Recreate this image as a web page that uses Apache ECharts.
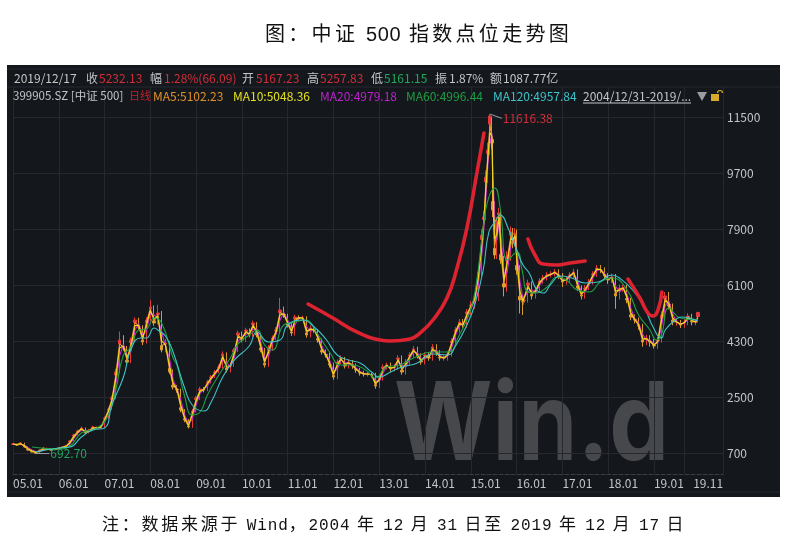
<!DOCTYPE html>
<html>
<head>
<meta charset="utf-8">
<title>中证 500 指数点位走势图</title>
<script src="https://cdn.jsdelivr.net/npm/echarts@6/dist/echarts.min.js"></script>
<style>
  html, body { margin: 0; padding: 0; background: #fff; overflow: hidden; }
  #chart { position: absolute; left: 0; top: 0; width: 789px; height: 538px; }
  .cap { position: absolute; left: 0; width: 789px; color: #111; white-space: pre; z-index: 2; }
  #head { top: 20px; left: 265px; width: auto; font: 20px/26px "Noto Sans CJK SC", sans-serif; letter-spacing: 3.3px; }
  #head span { font-family: "Liberation Sans"; letter-spacing: 0.6px; }
  #foot { top: 512px; left: 102px; width: auto; font: 17px/22px "Noto Sans CJK SC", sans-serif; letter-spacing: 2.75px; }
  #foot span { font-family: "Liberation Mono"; font-size: 16px; letter-spacing: 0.9px; word-spacing: -4px; }
</style>
</head>
<body>
<div id="chart"></div>
<div id="head" class="cap">图：中证 <span>500</span> 指数点位走势图</div>
<div id="foot" class="cap">注：数据来源于<span> Wind</span>，<span>2004 </span>年<span> 12 </span>月<span> 31 </span>日至<span> 2019 </span>年<span> 12 </span>月<span> 17 </span>日</div>
<script>
const dates = [
  '2005-01-01','2005-02-01','2005-03-01','2005-04-01','2005-05-01','2005-06-01','2005-07-01','2005-08-01','2005-09-01','2005-10-01','2005-11-01','2005-12-01',
  '2006-01-01','2006-02-01','2006-03-01','2006-04-01','2006-05-01','2006-06-01','2006-07-01','2006-08-01','2006-09-01','2006-10-01','2006-11-01','2006-12-01',
  '2007-01-01','2007-02-01','2007-03-01','2007-04-01','2007-05-01','2007-06-01','2007-07-01','2007-08-01','2007-09-01','2007-10-01','2007-11-01','2007-12-01',
  '2008-01-01','2008-02-01','2008-03-01','2008-04-01','2008-05-01','2008-06-01','2008-07-01','2008-08-01','2008-09-01','2008-10-01','2008-11-01','2008-12-01',
  '2009-01-01','2009-02-01','2009-03-01','2009-04-01','2009-05-01','2009-06-01','2009-07-01','2009-08-01','2009-09-01','2009-10-01','2009-11-01','2009-12-01',
  '2010-01-01','2010-02-01','2010-03-01','2010-04-01','2010-05-01','2010-06-01','2010-07-01','2010-08-01','2010-09-01','2010-10-01','2010-11-01','2010-12-01',
  '2011-01-01','2011-02-01','2011-03-01','2011-04-01','2011-05-01','2011-06-01','2011-07-01','2011-08-01','2011-09-01','2011-10-01','2011-11-01','2011-12-01',
  '2012-01-01','2012-02-01','2012-03-01','2012-04-01','2012-05-01','2012-06-01','2012-07-01','2012-08-01','2012-09-01','2012-10-01','2012-11-01','2012-12-01',
  '2013-01-01','2013-02-01','2013-03-01','2013-04-01','2013-05-01','2013-06-01','2013-07-01','2013-08-01','2013-09-01','2013-10-01','2013-11-01','2013-12-01',
  '2014-01-01','2014-02-01','2014-03-01','2014-04-01','2014-05-01','2014-06-01','2014-07-01','2014-08-01','2014-09-01','2014-10-01','2014-11-01','2014-12-01',
  '2015-01-01','2015-01-31','2015-03-02','2015-03-31','2015-04-16','2015-05-02','2015-05-18','2015-06-03','2015-06-19','2015-06-27','2015-07-09','2015-07-29',
  '2015-08-14','2015-08-30','2015-09-23','2015-10-17','2015-11-18','2015-12-04','2015-12-20','2016-01-05','2016-01-29','2016-02-22',
  '2016-03-01','2016-04-01','2016-05-01','2016-06-01','2016-07-01','2016-08-01','2016-09-01','2016-10-01','2016-11-01','2016-12-01',
  '2017-01-01','2017-02-01','2017-03-01','2017-04-01','2017-05-01','2017-06-01','2017-07-01','2017-08-01','2017-09-01','2017-10-01','2017-11-01','2017-12-01',
  '2018-01-01','2018-02-01','2018-03-01','2018-04-01','2018-05-01','2018-06-01','2018-07-01','2018-08-01','2018-09-01','2018-10-01','2018-11-01','2018-12-01',
  '2019-01-01','2019-02-01','2019-03-01','2019-04-01','2019-05-01','2019-06-01','2019-07-01','2019-08-01','2019-09-01','2019-10-01','2019-11-01','2019-12-01','2019-12-17',
];
const closes = [
  999,967,1031,903,806,742,700,806,871,838,806,838,
  871,903,935,1096,1289,1418,1514,1353,1450,1546,1514,1546,
  1836,2126,2480,3316,4346,4088,3638,4346,4990,4764,4281,4990,
  5408,4893,5215,4025,4249,3316,2834,2737,2093,1772,1546,2061,
  2480,2769,2737,2994,3155,3316,3477,3895,3381,3541,4025,4571,
  4346,4668,4507,4893,4507,4025,3541,4088,4410,4668,5311,5150,
  4829,4571,5086,5054,5054,4507,4732,4668,4346,3960,3863,3541,
  3155,3638,3767,3509,3638,3509,3381,3284,3252,3252,3220,2866,
  3123,3477,3541,3413,3477,3767,3316,3638,3863,4056,3831,3638,
  3863,3767,4121,3928,3767,3767,3895,4314,4668,4925,4829,5247,
  5472,5698,6534,7725,8304,9591,10460,11554,10686,8529,7081,8111,8433,6920,6052,7017,7821,7467,7789,6598,5633,5569,
  5633,6180,5762,5955,6245,6341,6438,6470,6534,6405,
  6212,6309,6438,6534,6019,5762,6019,6212,6470,6663,6599,6405,
  6277,6373,5762,6019,6019,5633,5086,4990,4796,4281,4410,4281,
  4153,4346,5150,5762,5440,4925,4925,4829,4925,5118,4925,4925,5232.13,
];
const highs = [
  1030,1010,1060,1040,920,820,760,830,900,880,850,860,
  900,930,970,1130,1330,1460,1560,1530,1480,1590,1560,1590,
  1880,2180,2560,3420,4620,4500,4150,4420,5080,5060,4820,5080,
  5640,5460,5480,5280,4380,4300,3400,2900,2780,2120,1800,2120,
  2540,2840,2830,3060,3220,3380,3550,3980,3950,3630,4090,4650,
  4620,4740,4720,4970,4920,4560,4090,4180,4490,4760,5700,5420,
  5190,4900,5160,5140,5130,5110,4820,4770,4700,4400,4040,3930,
  3620,3720,3850,3800,3720,3700,3590,3450,3360,3320,3300,3290,
  3230,3560,3620,3620,3570,3860,3850,3730,3950,4150,4130,3920,
  3950,3950,4210,4210,4020,3860,3980,4400,4760,5020,5020,5340,
  5600,5810,6700,7900,8500,9800,10700,11616,11500,10800,8700,8300,8600,8550,7050,7200,8000,7950,7950,7900,6750,5800,
  5760,6290,6230,6070,6340,6440,6530,6560,6630,6620,
  6500,6400,6530,6640,6620,6100,6120,6310,6560,6760,6760,6680,
  6500,6480,6470,6130,6120,6120,5700,5170,5070,4870,4510,4500,
  4380,4450,5270,5890,5890,5520,5030,4990,5010,5210,5190,5020,5257.83,
];
const lows = [
  970,945,960,880,790,725,693,695,800,820,790,800,
  830,860,895,930,1090,1280,1410,1330,1340,1440,1490,1500,
  1520,1810,2090,2450,3270,4000,3560,3600,4300,4680,4180,4230,
  4950,4800,4850,3950,3950,3250,2750,2650,2020,1700,1500,1520,
  2020,2420,2660,2700,2950,3120,3280,3420,3300,3300,3480,3960,
  4270,4280,4430,4450,4430,3950,3460,3480,4000,4340,4590,5060,
  4750,4480,4490,4980,4970,4420,4430,4580,4260,3880,3780,3460,
  3070,3080,3570,3430,3430,3420,3290,3200,3170,3170,3140,2780,
  2800,3040,3400,3320,3340,3390,3230,3230,3550,3780,3750,3550,
  3560,3680,3680,3840,3680,3680,3680,3810,4230,4580,4740,4740,
  5150,5350,5600,6400,7600,8200,9400,10300,10500,8300,6950,6950,7980,6800,5750,5900,6900,7300,7350,6450,5200,5150,
  5480,5550,5650,5680,5870,6160,6260,6360,6390,6310,
  6050,6130,6220,6340,5920,5650,5680,5950,6130,6380,6500,6300,
  6150,6180,5350,5650,5900,5530,4980,4880,4680,4130,4180,4130,
  4070,4060,4260,5050,5330,4820,4800,4730,4740,4820,4820,4820,5161.15,
];
const ma5 = [
  990,975,1020,925,825,760,720,780,860,845,815,830,
  865,900,930,1070,1260,1400,1500,1375,1435,1530,1520,1540,
  1800,2090,2440,3220,4220,4120,3690,4260,4910,4790,4340,4910,
  5350,4960,5170,4170,4220,3430,2890,2750,2170,1810,1570,2000,
  2430,2730,2740,2960,3135,3295,3455,3840,3445,3520,3965,4505,
  4375,4630,4525,4845,4555,4085,3600,4020,4370,4635,5230,5170,
  4870,4600,5025,5060,5054,4575,4705,4675,4385,4010,3875,3580,
  3205,3580,3750,3540,3620,3525,3395,3295,3255,3252,3225,2910,
  3090,3435,3535,3430,3470,3730,3370,3600,3835,4030,3860,3660,
  3835,3780,4075,3950,3790,3767,3880,4260,4625,4890,4840,5195,
  5440,5660,6430,7580,8230,9430,10350,11300,10800,8800,7300,7950,8380,7100,6160,6900,7720,7510,7750,6740,5750,5580,
  5620,6110,5815,5930,6210,6330,6425,6465,6525,6420,
  6235,6295,6420,6520,6085,5795,5985,6190,6440,6640,6610,6430,
  6295,6360,5840,5985,6019,5680,5155,5000,4820,4345,4395,4295,
  4170,4320,5050,5685,5480,4990,4925,4840,4915,5095,4950,4925,5102.23,
];
const ma10 = [
  1000,980,1005,950,850,785,735,760,835,850,825,825,
  855,890,925,1040,1220,1370,1480,1400,1415,1505,1525,1535,
  1750,2050,2390,3110,4090,4150,3770,4150,4810,4820,4420,4800,
  5280,5030,5110,4320,4190,3550,2960,2770,2250,1850,1600,1930,
  2370,2690,2745,2930,3110,3270,3430,3790,3510,3500,3900,4435,
  4405,4590,4545,4800,4600,4145,3660,3950,4330,4600,5150,5190,
  4910,4635,4960,5065,5054,4640,4680,4685,4425,4055,3890,3620,
  3250,3520,3735,3575,3605,3540,3410,3305,3260,3252,3230,2955,
  3060,3390,3525,3445,3460,3695,3430,3560,3805,4005,3885,3685,
  3805,3795,4030,3975,3810,3767,3865,4210,4580,4860,4855,5140,
  5400,5630,6330,7430,8150,9270,10240,11020,10900,9200,7600,7750,8300,7350,6300,6780,7620,7550,7700,6900,5900,5600,
  5610,6040,5870,5905,6170,6320,6410,6460,6515,6440,
  6260,6280,6405,6505,6150,5830,5950,6165,6410,6615,6620,6455,
  6315,6345,5920,5950,6019,5730,5225,5015,4845,4410,4380,4310,
  4185,4295,4950,5610,5520,5055,4925,4850,4905,5070,4975,4925,5048.36,
];
const ma20 = [
  1010,985,990,970,880,810,760,750,800,845,830,820,
  850,880,915,1000,1180,1340,1450,1430,1400,1480,1525,1530,
  1690,1980,2300,2900,3830,4200,3860,3990,4670,4870,4520,4640,
  5200,5150,5050,4620,4140,3780,3070,2790,2420,1930,1660,1800,
  2270,2625,2755,2865,3075,3235,3395,3690,3640,3460,3780,4300,
  4460,4510,4590,4700,4700,4270,3780,3815,4250,4540,4990,5230,
  4990,4700,4830,5070,5054,4780,4620,4700,4505,4155,3910,3700,
  3350,3400,3700,3640,3575,3575,3445,3330,3270,3250,3235,3040,
  3000,3300,3510,3475,3445,3620,3540,3480,3750,3960,3945,3735,
  3750,3815,3945,4025,3850,3767,3830,4105,4490,4795,4875,5040,
  5350,5580,6120,7120,8000,8950,10020,10700,11000,9600,8400,7550,8200,7700,6500,6500,7400,7640,7620,7200,6200,5650,
  5600,5900,5970,5860,6100,6290,6390,6450,6500,6470,
  6310,6260,6370,6485,6275,5890,5890,6115,6340,6565,6630,6500,
  6340,6325,6070,5890,6019,5825,5360,5040,4895,4540,4345,4345,
  4220,4250,4750,5455,5600,5180,4925,4875,4880,5020,5020,4925,4979.18,
];
const ma60Dates = [
  '2005-06-01','2006-01-01','2006-04-01','2006-07-01','2006-11-01','2007-02-01','2007-04-01','2007-06-01','2007-08-01','2007-10-01','2007-12-01',
  '2008-02-01','2008-04-01','2008-07-01','2008-08-01','2008-10-01','2008-12-01','2009-02-01','2009-04-01','2009-07-01','2009-10-01','2009-12-01',
  '2010-03-01','2010-05-01','2010-07-01','2010-09-01','2010-12-01','2011-03-01','2011-05-20','2011-09-01','2011-12-01','2012-03-01','2012-06-01','2012-09-15','2012-12-01',
  '2013-03-01','2013-06-15','2013-10-01','2014-03-01','2014-07-01','2014-10-01','2014-12-25','2015-02-12','2015-04-08','2015-05-18','2015-07-12','2015-08-22','2015-10-24',
  '2016-01-05','2016-02-14','2016-04-01','2016-06-01','2016-09-01','2016-11-20','2017-02-01','2017-05-01','2017-08-01','2017-11-01',
  '2018-02-01','2018-06-01','2018-09-01','2018-12-01','2019-01-20','2019-03-01','2019-05-01','2019-08-01','2019-12-17',
];
const ma60 = [
  903,838,935,1353,1514,1933,2737,3863,4121,4668,4700,
  5054,4893,3767,3541,2544,1933,2029,2576,3219,3767,4217,
  4507,4668,4185,4024,4829,4925,4990,4507,3960,3541,3541,3381,3123,
  3477,3541,3767,3960,3960,4507,5247,6116,7889,8850,9237,8630,6920,
  7176,6598,5891,5859,6052,6373,6277,5955,5891,6212,
  6341,5955,5150,4668,4346,4507,5376,5056,4996.44,
];
const ma120Dates = [
  '2005-07-01','2006-01-01','2006-04-01','2006-07-01','2006-10-01','2007-01-01','2007-03-01','2007-06-01','2007-08-01','2007-10-15','2007-12-01',
  '2008-02-01','2008-03-01','2008-05-01','2008-07-01','2008-10-01','2008-12-01','2009-03-01','2009-05-01','2009-08-01','2009-11-01',
  '2010-03-01','2010-05-01','2010-08-01','2010-11-01','2011-01-01','2011-05-01','2011-08-01','2011-11-01','2012-02-01','2012-05-01','2012-08-01','2012-11-01',
  '2013-01-01','2013-04-01','2013-07-01','2013-11-01','2014-03-01','2014-07-01','2014-09-01','2014-12-01','2015-02-01','2015-04-10','2015-05-25','2015-07-12','2015-08-22','2015-11-01',
  '2016-01-05','2016-02-22','2016-04-15','2016-06-10','2016-08-01','2016-10-01','2016-12-15','2017-03-15','2017-07-01','2017-10-15',
  '2018-02-01','2018-04-01','2018-07-15','2018-10-15','2018-12-25','2019-03-01','2019-04-01','2019-06-10','2019-08-10','2019-12-17',
];
const ma120 = [
  745,871,903,1225,1450,1514,2254,3155,4056,4410,4410,
  4732,4668,4475,3960,2802,2254,2061,2351,3155,3702,
  4153,4604,4281,4346,4829,4990,4764,4378,3863,3702,3605,3316,
  3155,3316,3477,3605,3895,3863,4153,4829,5472,6598,7821,8143,8368,7885,
  7210,6760,6470,5955,5858,6147,6405,6341,6180,6212,
  6438,6341,5955,5408,4764,4410,4668,4957,5086,4957.84,
];
// 红色手绘标注线
const curve1Dates = ['2011-06-13','2011-12-28','2012-07-06','2013-01-08','2013-03-28','2013-09-03','2013-11-22','2014-03-05','2014-06-25','2014-09-13','2014-12-01','2015-02-20','2015-04-16'];
const curve1 = [5504,5054,4604,4346,4314,4378,4571,4990,5698,6663,7950,9752,11007];
const curve2Dates = ['2016-04-01','2016-05-27','2016-07-31','2016-11-20','2017-03-03','2017-07-01'];
const curve2 = [7596,7081,6791,6759,6824,6888];
const curve3Dates = ['2018-06-08','2018-09-11','2018-11-14','2018-12-24','2019-02-02','2019-03-05'];
const curve3 = [6308,5698,5214,5118,5311,5890];
// 最高、最低点引线
const peakDates = ['2015-06-03','2015-09-05'];
const peakValues = [11616.38,11480];
const lowDates = ['2005-07-01','2005-10-18'];
const lowValues = [692.7,692.7];
// 坐标轴
const yTicks = [700,2500,4300,6100,7900,9700,11500];
const xLabelDates = ['2005-01-01','2006-01-01','2007-01-01','2008-01-01','2009-01-01','2010-01-01','2011-01-01','2012-01-01','2013-01-01','2014-01-01','2015-01-01','2016-01-01','2017-01-01','2018-01-01','2019-01-01','2019-11-10'];
const xLabels = ['05.01','06.01','07.01','08.01','09.01','10.01','11.01','12.01','13.01','14.01','15.01','16.01','17.01','18.01','19.01','19.11'];
const xGridDates = ['2005-01-01','2006-01-01','2007-01-01','2008-01-01','2009-01-01','2010-01-01','2011-01-01','2012-01-01','2013-01-01','2014-01-01','2015-01-01','2016-01-01','2017-01-01','2018-01-01','2019-01-01','2019-08-29'];

const FONT = '"Noto Sans CJK SC", "Noto Sans", sans-serif';
const RED = '#cf2f3a';
const GREY = '#c3c5c8';
const GRID = '#25282e';

function ms(d) {
  return Date.parse(d + 'T00:00:00Z');
}
function zip(xs, ys) {
  return xs.map((x, i) => [ms(x), ys[i]]);
}
function txt(x, y, text, fill, extra) {
  return {
    type: 'text',
    x: x,
    y: y,
    z: 10,
    silent: true,
    style: Object.assign({ text: text, fill: fill, font: '12px ' + FONT, textVerticalAlign: 'middle' }, extra),
  };
}
function maLine(name, xs, ys, color, smooth) {
  return {
    name: name,
    type: 'line',
    data: zip(xs, ys),
    smooth: smooth,
    showSymbol: false,
    symbol: 'none',
    silent: true,
    lineStyle: { color: color, width: 1.1 },
  };
}
function redCurve(xs, ys) {
  return {
    type: 'line',
    data: zip(xs, ys),
    smooth: 0.5,
    symbol: 'none',
    silent: true,
    z: 5,
    lineStyle: { color: '#dd2230', width: 3.6, cap: 'round' },
  };
}
function leader(xs, ys, text, color) {
  return {
    type: 'line',
    data: zip(xs, ys),
    symbol: 'none',
    silent: true,
    z: 6,
    lineStyle: { color: '#9a9da1', width: 1 },
    endLabel: { show: true, formatter: text, color: color, fontSize: 12, fontFamily: FONT, distance: 1 },
  };
}

const labelTimes = xLabelDates.map(ms);

const myChart = echarts.init(document.getElementById('chart'), null, { renderer: 'canvas' });

const option = {
  animation: false,
  backgroundColor: '#fff',
  grid: { left: 13, right: 66, top: 87, bottom: 64 },
  xAxis: {
    type: 'value',
    scale: true,
    min: ms('2005-01-01'),
    max: ms('2020-07-05'),
    axisLine: { lineStyle: { color: '#3a3d42', type: 'dashed' } },
    axisTick: { show: false, customValues: xGridDates.map(ms) },
    splitLine: { show: true, lineStyle: { color: GRID, width: 1 } },
    axisLabel: {
      customValues: labelTimes,
      formatter(value) {
        return xLabels[labelTimes.indexOf(value)];
      },
      color: GREY,
      fontSize: 12,
      fontFamily: FONT,
      align: 'left',
      margin: 3,
      showMinLabel: true,
      showMaxLabel: true,
      hideOverlap: false,
    },
  },
  yAxis: {
    type: 'value',
    position: 'right',
    min: 34,
    max: 12488,
    axisLine: { show: true, lineStyle: { color: GRID } },
    axisTick: { show: false, customValues: yTicks },
    splitLine: { show: true, lineStyle: { color: GRID, width: 1 } },
    axisLabel: {
      customValues: yTicks,
      formatter: (value) => String(value),
      color: GREY,
      fontSize: 12,
      fontFamily: FONT,
      margin: 4,
    },
  },
  series: [
    {
      name: 'K线',
      type: 'candlestick',
      layout: 'horizontal',
      barWidth: 3,
      silent: true,
      // 开盘价图上读不出，实体取 MA5 到收盘价
      encode: { x: 0, y: [1, 2, 3, 4] },
      data: dates.map((d, i) => [ms(d), ma5[i], closes[i], lows[i], highs[i]]),
      itemStyle: { color: '#e5383b', color0: '#e8a030', borderColor: '#e5383b', borderColor0: '#d89a2a', borderWidth: 1 },
    },
    maLine('MA20', dates, ma20, '#c828d8', false),
    maLine('MA5', dates, ma5, '#ee9530', false),
    maLine('MA10', dates, ma10, '#ecd81e', false),
    maLine('MA60', ma60Dates, ma60, '#1f9e45', true),
    maLine('MA120', ma120Dates, ma120, '#3cc4c8', true),
    redCurve(curve1Dates, curve1),
    redCurve(curve2Dates, curve2),
    redCurve(curve3Dates, curve3),
    leader(peakDates, peakValues, '11616.38', RED),
    leader(lowDates, lowValues, '692.70', '#1fa85c'),
  ],
  graphic: [
    // 面板底色
    { type: 'rect', z: -3, silent: true, shape: { x: 7, y: 65, width: 773, height: 432 }, style: { fill: '#14171c' } },
    { type: 'line', z: -2, silent: true, shape: { x1: 7, y1: 69, x2: 780, y2: 69 }, style: { stroke: GRID } },
    { type: 'line', z: -2, silent: true, shape: { x1: 7, y1: 87, x2: 780, y2: 87 }, style: { stroke: GRID } },
    { type: 'line', z: -2, silent: true, shape: { x1: 7, y1: 492, x2: 780, y2: 492 }, style: { stroke: GRID } },
    // 水印
    {
      type: 'text',
      x: 394,
      y: 482,
      scaleX: 0.88,
      z: -1,
      silent: true,
      style: { text: 'Win.d', fill: '#47484b', font: '700 108px Inter', textVerticalAlign: 'bottom' },
    },
    // 第一行
    txt(14, 78, '2019/12/17', GREY),
    txt(86, 78, '收', GREY),
    txt(99, 78, '5232.13', RED),
    txt(150, 78, '幅', GREY),
    txt(164, 78, '1.28%(66.09)', RED),
    txt(242, 78, '开', GREY),
    txt(256, 78, '5167.23', RED),
    txt(307, 78, '高', GREY),
    txt(320, 78, '5257.83', RED),
    txt(371, 78, '低', GREY),
    txt(384, 78, '5161.15', '#1fa85c'),
    txt(435, 78, '振', GREY),
    txt(449, 78, '1.87%', GREY),
    txt(490, 78, '额', GREY),
    txt(503, 78, '1087.77亿', GREY),
    // 第二行
    txt(13, 96, '399905.SZ [中证 500]', GREY, { font: '11.5px ' + FONT }),
    txt(129, 96, '日线', '#c81e28', { font: '11px ' + FONT }),
    txt(153, 96, 'MA5:5102.23', '#e0902a'),
    txt(233, 96, 'MA10:5048.36', '#e4e020'),
    txt(320, 96, 'MA20:4979.18', '#c020d0'),
    txt(406, 96, 'MA60:4996.44', '#1f9e45'),
    txt(493, 96, 'MA120:4957.84', '#3cc4c8'),
    txt(583, 96, '2004/12/31-2019/...', GREY),
    { type: 'line', z: 10, silent: true, shape: { x1: 583, y1: 103, x2: 691, y2: 103 }, style: { stroke: GREY } },
    { type: 'polygon', z: 10, silent: true, shape: { points: [[697, 92], [707, 92], [702, 101]] }, style: { fill: '#9a9da0' } },
    { type: 'rect', z: 10, silent: true, shape: { x: 711, y: 94, width: 8, height: 7 }, style: { fill: '#d8a92c' } },
    { type: 'arc', z: 10, silent: true, shape: { cx: 720, cy: 93, r: 2.5, startAngle: Math.PI, endAngle: 0 }, style: { stroke: '#d8a92c', fill: 'none', lineWidth: 1.2 } },
  ],
};

myChart.setOption(option);

window.addEventListener('resize', () => {
  myChart.resize();
});
</script>
</body>
</html>
